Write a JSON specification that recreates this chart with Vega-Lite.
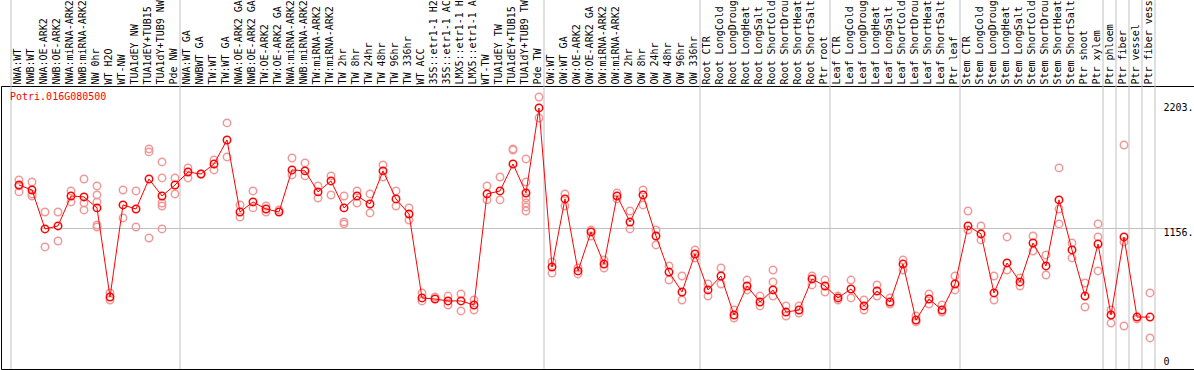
{
  "$schema": "https://vega.github.io/schema/vega-lite/v6.json",
  "width": 1193,
  "height": 283,
  "autosize": {"type": "none"},
  "padding": {"left": 1, "top": 86, "right": 0, "bottom": 1},
  "background": "white",
  "config": {"view": {"stroke": "black", "strokeWidth": 1}},
  "datasets": {
    "means": [
      {"s":"NWA:WT","v":1516},{"s":"NWB:WT","v":1474},{"s":"NWA:OE-ARK2","v":1148},{"s":"NWB:OE-ARK2","v":1173},
      {"s":"NWA:miRNA-ARK2","v":1424},{"s":"NWB:miRNA-ARK2","v":1416},{"s":"NW 0hr","v":1324},{"s":"WT H2O","v":578},
      {"s":"WT-NW","v":1349},{"s":"TUA1dEY NW","v":1315},{"s":"TUA1dEY+TUB15 NW","v":1566},{"s":"TUA1dY+TUB9 NW","v":1424},
      {"s":"Pde NW","v":1516},{"s":"NWA:WT GA","v":1625},{"s":"NWBWT GA","v":1608},{"s":"TW:WT","v":1692},
      {"s":"TW:WT GA","v":1893},{"s":"NWA:OE-ARK2 GA","v":1290},{"s":"NWB:OE-ARK2 GA","v":1374},{"s":"TW:OE-ARK2","v":1315},
      {"s":"TW:OE-ARK2 GA","v":1290},{"s":"NWA:miRNA-ARK2 GA","v":1642},{"s":"NWB:miRNA-ARK2 GA","v":1634},{"s":"TW:miRNA-ARK2","v":1458},
      {"s":"TW:miRNA-ARK2 GA","v":1550},{"s":"TW 2hr","v":1324},{"s":"TW 8hr","v":1424},{"s":"TW 24hr","v":1357},
      {"s":"TW 48hr","v":1634},{"s":"TW 96hr","v":1399},{"s":"TW 336hr","v":1273},{"s":"WT ACC","v":570},
      {"s":"35S::etr1-1 H2O","v":561},{"s":"35S::etr1-1 ACC","v":545},{"s":"LMX5::etr1-1 H2O","v":545},{"s":"LMX5::etr1-1 ACC","v":511},
      {"s":"WT-TW","v":1441},{"s":"TUA1dEY TW","v":1466},{"s":"TUA1dEY+TUB15 TW","v":1692},{"s":"TUA1dY+TUB9 TW","v":1449},
      {"s":"Pde TW","v":2161},{"s":"OW:WT","v":829},{"s":"OW:WT GA","v":1399},{"s":"OW:OE-ARK2","v":796},
      {"s":"OW:OE-ARK2 GA","v":1123},{"s":"OW:miRNA-ARK2","v":854},{"s":"OW:miRNA-ARK2 GA","v":1424},{"s":"OW 2hr","v":1206},
      {"s":"OW 8hr","v":1432},{"s":"OW 24hr","v":1089},{"s":"OW 48hr","v":787},{"s":"OW 96hr","v":620},
      {"s":"OW 336hr","v":938},{"s":"Root CTR","v":637},{"s":"Root LongCold","v":754},{"s":"Root LongDrought","v":427},
      {"s":"Root LongHeat","v":670},{"s":"Root LongSalt","v":536},{"s":"Root ShortCold","v":637},{"s":"Root ShortDrought","v":452},
      {"s":"Root ShortHeat","v":469},{"s":"Root ShortSalt","v":729},{"s":"Ptr root","v":670},{"s":"Leaf CTR","v":570},
      {"s":"Leaf LongCold","v":645},{"s":"Leaf LongDrought","v":503},{"s":"Leaf LongHeat","v":628},{"s":"Leaf LongSalt","v":536},
      {"s":"Leaf ShortCold","v":854},{"s":"Leaf ShortDrought","v":385},{"s":"Leaf ShortHeat","v":561},{"s":"Leaf ShortSalt","v":469},
      {"s":"Ptr leaf","v":687},{"s":"Stem CTR","v":1173},{"s":"Stem LongCold","v":1106},{"s":"Stem LongDrought","v":612},
      {"s":"Stem LongHeat","v":863},{"s":"Stem LongSalt","v":704},{"s":"Stem ShortCold","v":1030},{"s":"Stem ShortDrought","v":838},
      {"s":"Stem ShortHeat","v":1391},{"s":"Stem ShortSalt","v":972},{"s":"Ptr shoot","v":586},{"s":"Ptr xylem","v":1022},
      {"s":"Ptr phloem","v":427},{"s":"Ptr fiber","v":1081},{"s":"Ptr vessel","v":410},{"s":"Ptr fiber vessel","v":410}
    ],
    "reps": [
      {"s":"NWA:WT","v":1558},{"s":"NWA:WT","v":1508},{"s":"NWA:WT","v":1458},
      {"s":"NWB:WT","v":1541},{"s":"NWB:WT","v":1441},{"s":"NWB:WT","v":1424},
      {"s":"NWA:OE-ARK2","v":1290},{"s":"NWA:OE-ARK2","v":997},
      {"s":"NWB:OE-ARK2","v":1290},{"s":"NWB:OE-ARK2","v":1047},
      {"s":"NWA:miRNA-ARK2","v":1466},{"s":"NWA:miRNA-ARK2","v":1374},
      {"s":"NWB:miRNA-ARK2","v":1566},{"s":"NWB:miRNA-ARK2","v":1365},{"s":"NWB:miRNA-ARK2","v":1307},
      {"s":"NW 0hr","v":1508},{"s":"NW 0hr","v":1432},{"s":"NW 0hr","v":1374},{"s":"NW 0hr","v":1181},{"s":"NW 0hr","v":1164},
      {"s":"WT H2O","v":612},{"s":"WT H2O","v":553},
      {"s":"WT-NW","v":1474},{"s":"WT-NW","v":1240},
      {"s":"TUA1dEY NW","v":1466},{"s":"TUA1dEY NW","v":1164},
      {"s":"TUA1dEY+TUB15 NW","v":1818},{"s":"TUA1dEY+TUB15 NW","v":1793},{"s":"TUA1dEY+TUB15 NW","v":1072},
      {"s":"TUA1dY+TUB9 NW","v":1709},{"s":"TUA1dY+TUB9 NW","v":1575},{"s":"TUA1dY+TUB9 NW","v":1365},{"s":"TUA1dY+TUB9 NW","v":1340},{"s":"TUA1dY+TUB9 NW","v":1148},
      {"s":"Pde NW","v":1575},{"s":"Pde NW","v":1441},
      {"s":"NWA:WT GA","v":1659},{"s":"NWA:WT GA","v":1575},
      {"s":"NWBWT GA","v":1608},
      {"s":"TW:WT","v":1726},{"s":"TW:WT","v":1642},
      {"s":"TW:WT GA","v":2036},{"s":"TW:WT GA","v":1751},
      {"s":"NWA:OE-ARK2 GA","v":1349},{"s":"NWA:OE-ARK2 GA","v":1248},
      {"s":"NWB:OE-ARK2 GA","v":1466},{"s":"NWB:OE-ARK2 GA","v":1324},
      {"s":"TW:OE-ARK2","v":1340},{"s":"TW:OE-ARK2","v":1290},
      {"s":"TW:OE-ARK2 GA","v":1307},
      {"s":"NWA:miRNA-ARK2 GA","v":1742},{"s":"NWA:miRNA-ARK2 GA","v":1600},
      {"s":"NWB:miRNA-ARK2 GA","v":1701},{"s":"NWB:miRNA-ARK2 GA","v":1592},
      {"s":"TW:miRNA-ARK2","v":1508},{"s":"TW:miRNA-ARK2","v":1407},
      {"s":"TW:miRNA-ARK2 GA","v":1592},{"s":"TW:miRNA-ARK2 GA","v":1432},
      {"s":"TW 2hr","v":1424},{"s":"TW 2hr","v":1206},{"s":"TW 2hr","v":1190},
      {"s":"TW 8hr","v":1466},{"s":"TW 8hr","v":1365},
      {"s":"TW 24hr","v":1441},{"s":"TW 24hr","v":1282},
      {"s":"TW 48hr","v":1684},{"s":"TW 48hr","v":1583},
      {"s":"TW 96hr","v":1466},{"s":"TW 96hr","v":1340},
      {"s":"TW 336hr","v":1324},{"s":"TW 336hr","v":1223},
      {"s":"WT ACC","v":612},{"s":"WT ACC","v":545},
      {"s":"35S::etr1-1 H2O","v":578},
      {"s":"35S::etr1-1 ACC","v":586},{"s":"35S::etr1-1 ACC","v":511},
      {"s":"LMX5::etr1-1 H2O","v":603},{"s":"LMX5::etr1-1 H2O","v":461},
      {"s":"LMX5::etr1-1 ACC","v":553},{"s":"LMX5::etr1-1 ACC","v":469},
      {"s":"WT-TW","v":1508},{"s":"WT-TW","v":1391},
      {"s":"TUA1dEY TW","v":1583},{"s":"TUA1dEY TW","v":1391},
      {"s":"TUA1dEY+TUB15 TW","v":1818},{"s":"TUA1dEY+TUB15 TW","v":1809},
      {"s":"TUA1dY+TUB9 TW","v":1734},{"s":"TUA1dY+TUB9 TW","v":1541},{"s":"TUA1dY+TUB9 TW","v":1407},{"s":"TUA1dY+TUB9 TW","v":1365},{"s":"TUA1dY+TUB9 TW","v":1332},{"s":"TUA1dY+TUB9 TW","v":1298},
      {"s":"Pde TW","v":2253},{"s":"Pde TW","v":2077},
      {"s":"OW:WT","v":871},{"s":"OW:WT","v":779},
      {"s":"OW:WT GA","v":1441},{"s":"OW:WT GA","v":1340},
      {"s":"OW:OE-ARK2","v":821},{"s":"OW:OE-ARK2","v":771},
      {"s":"OW:OE-ARK2 GA","v":1139},{"s":"OW:OE-ARK2 GA","v":1089},
      {"s":"OW:miRNA-ARK2","v":888},{"s":"OW:miRNA-ARK2","v":821},
      {"s":"OW:miRNA-ARK2 GA","v":1449},{"s":"OW:miRNA-ARK2 GA","v":1399},
      {"s":"OW 2hr","v":1298},{"s":"OW 2hr","v":1148},
      {"s":"OW 8hr","v":1474},{"s":"OW 8hr","v":1349},
      {"s":"OW 24hr","v":1139},{"s":"OW 24hr","v":1014},
      {"s":"OW 48hr","v":838},{"s":"OW 48hr","v":720},
      {"s":"OW 96hr","v":754},{"s":"OW 96hr","v":553},
      {"s":"OW 336hr","v":972},{"s":"OW 336hr","v":905},
      {"s":"Root CTR","v":687},{"s":"Root CTR","v":586},
      {"s":"Root LongCold","v":821},{"s":"Root LongCold","v":687},
      {"s":"Root LongDrought","v":469},{"s":"Root LongDrought","v":402},
      {"s":"Root LongHeat","v":720},{"s":"Root LongHeat","v":637},
      {"s":"Root LongSalt","v":586},{"s":"Root LongSalt","v":503},
      {"s":"Root ShortCold","v":804},{"s":"Root ShortCold","v":704},{"s":"Root ShortCold","v":586},
      {"s":"Root ShortDrought","v":503},{"s":"Root ShortDrought","v":419},
      {"s":"Root ShortHeat","v":503},{"s":"Root ShortHeat","v":444},
      {"s":"Root ShortSalt","v":754},{"s":"Root ShortSalt","v":679},
      {"s":"Ptr root","v":720},{"s":"Ptr root","v":620},
      {"s":"Leaf CTR","v":586},{"s":"Leaf CTR","v":553},
      {"s":"Leaf LongCold","v":720},{"s":"Leaf LongCold","v":570},
      {"s":"Leaf LongDrought","v":553},{"s":"Leaf LongDrought","v":469},
      {"s":"Leaf LongHeat","v":679},{"s":"Leaf LongHeat","v":586},
      {"s":"Leaf LongSalt","v":570},{"s":"Leaf LongSalt","v":519},
      {"s":"Leaf ShortCold","v":888},{"s":"Leaf ShortCold","v":804},
      {"s":"Leaf ShortDrought","v":419},{"s":"Leaf ShortDrought","v":369},
      {"s":"Leaf ShortHeat","v":603},{"s":"Leaf ShortHeat","v":519},
      {"s":"Leaf ShortSalt","v":511},{"s":"Leaf ShortSalt","v":452},
      {"s":"Ptr leaf","v":754},{"s":"Ptr leaf","v":637},
      {"s":"Stem CTR","v":1298},{"s":"Stem CTR","v":1139},
      {"s":"Stem LongCold","v":1173},{"s":"Stem LongCold","v":1056},
      {"s":"Stem LongDrought","v":754},{"s":"Stem LongDrought","v":553},
      {"s":"Stem LongHeat","v":1081},{"s":"Stem LongHeat","v":804},
      {"s":"Stem LongSalt","v":737},{"s":"Stem LongSalt","v":670},
      {"s":"Stem ShortCold","v":1089},{"s":"Stem ShortCold","v":963},
      {"s":"Stem ShortDrought","v":930},{"s":"Stem ShortDrought","v":762},
      {"s":"Stem ShortHeat","v":1659},{"s":"Stem ShortHeat","v":1315},{"s":"Stem ShortHeat","v":1190},
      {"s":"Stem ShortSalt","v":1030},{"s":"Stem ShortSalt","v":905},
      {"s":"Ptr shoot","v":695},{"s":"Ptr shoot","v":494},
      {"s":"Ptr xylem","v":1190},{"s":"Ptr xylem","v":1081},{"s":"Ptr xylem","v":796},
      {"s":"Ptr phloem","v":469},{"s":"Ptr phloem","v":360},
      {"s":"Ptr fiber","v":1851},{"s":"Ptr fiber","v":1039},{"s":"Ptr fiber","v":335},
      {"s":"Ptr vessel","v":394},
      {"s":"Ptr fiber vessel","v":612},{"s":"Ptr fiber vessel","v":235}
    ],
    "bounds": [
      {"s":"NWA:WT"},{"s":"NWA:WT GA"},{"s":"OW:WT"},{"s":"Root CTR"},{"s":"Leaf CTR"},
      {"s":"Stem CTR"},{"s":"Ptr phloem"},{"s":"Ptr fiber"},{"s":"Ptr vessel"},{"s":"Ptr fiber vessel"}
    ]
  },
  "layer": [
    {
      "data": {"name": "bounds"},
      "mark": {"type": "rule", "color": "#c0c0c0", "strokeWidth": 1, "clip": false},
      "encoding": {
        "x": {"field": "s", "type": "nominal", "bandPosition": 0},
        "y": {"datum": 3100, "type": "quantitative"},
        "y2": {"datum": -25}
      }
    },
    {
      "data": {"values": [{"s": "Ptr fiber vessel"}]},
      "mark": {"type": "rule", "color": "#c0c0c0", "strokeWidth": 1, "clip": false},
      "encoding": {
        "x": {"field": "s", "type": "nominal", "bandPosition": 1},
        "y": {"datum": 3100, "type": "quantitative"},
        "y2": {"datum": -25}
      }
    },
    {
      "data": {"name": "reps"},
      "mark": {"type": "point", "shape": "circle", "filled": false, "size": 55, "strokeWidth": 1.5, "color": "#f09898", "opacity": 1},
      "encoding": {
        "x": {
          "field": "s", "type": "nominal", "bandPosition": 0.6154,
          "scale": {
            "type": "band",
            "domain": ["NWA:WT","NWB:WT","NWA:OE-ARK2","NWB:OE-ARK2","NWA:miRNA-ARK2","NWB:miRNA-ARK2","NW 0hr","WT H2O","WT-NW","TUA1dEY NW","TUA1dEY+TUB15 NW","TUA1dY+TUB9 NW","Pde NW","NWA:WT GA","NWBWT GA","TW:WT","TW:WT GA","NWA:OE-ARK2 GA","NWB:OE-ARK2 GA","TW:OE-ARK2","TW:OE-ARK2 GA","NWA:miRNA-ARK2 GA","NWB:miRNA-ARK2 GA","TW:miRNA-ARK2","TW:miRNA-ARK2 GA","TW 2hr","TW 8hr","TW 24hr","TW 48hr","TW 96hr","TW 336hr","WT ACC","35S::etr1-1 H2O","35S::etr1-1 ACC","LMX5::etr1-1 H2O","LMX5::etr1-1 ACC","WT-TW","TUA1dEY TW","TUA1dEY+TUB15 TW","TUA1dY+TUB9 TW","Pde TW","OW:WT","OW:WT GA","OW:OE-ARK2","OW:OE-ARK2 GA","OW:miRNA-ARK2","OW:miRNA-ARK2 GA","OW 2hr","OW 8hr","OW 24hr","OW 48hr","OW 96hr","OW 336hr","Root CTR","Root LongCold","Root LongDrought","Root LongHeat","Root LongSalt","Root ShortCold","Root ShortDrought","Root ShortHeat","Root ShortSalt","Ptr root","Leaf CTR","Leaf LongCold","Leaf LongDrought","Leaf LongHeat","Leaf LongSalt","Leaf ShortCold","Leaf ShortDrought","Leaf ShortHeat","Leaf ShortSalt","Ptr leaf","Stem CTR","Stem LongCold","Stem LongDrought","Stem LongHeat","Stem LongSalt","Stem ShortCold","Stem ShortDrought","Stem ShortHeat","Stem ShortSalt","Ptr shoot","Ptr xylem","Ptr phloem","Ptr fiber","Ptr vessel","Ptr fiber vessel"],
            "range": [10, 1154],
            "paddingInner": 0,
            "paddingOuter": 0
          },
          "axis": {
            "orient": "top", "title": null, "labelAngle": -90, "labelAlign": "left", "labelBaseline": "middle",
            "bandPosition": 0.6154, "ticks": false, "tickSize": 0, "labelPadding": 2, "domain": false,
            "grid": false, "labelOverlap": false, "labelLimit": 0,
            "labelFont": "DejaVu Sans Mono", "labelFontSize": 10, "labelColor": "black"
          }
        },
        "y": {
          "field": "v", "type": "quantitative",
          "scale": {"domain": [-25, 2345], "nice": false, "zero": false},
          "axis": {
            "orient": "right", "title": null, "values": [0, 1156, 2203],
            "labelExpr": "datum.value == 0 ? '0' : datum.value + '.'",
            "domain": false, "ticks": false, "tickSize": 0, "labelPadding": -31, "labelAlign": "left",
            "labelFlush": false, "labelOverlap": false,
            "labelBaseline": {"condition": {"test": "datum.value == 0", "value": "bottom"}, "value": "top"},
            "labelFont": "DejaVu Sans Mono", "labelFontSize": 10, "labelColor": "black",
            "grid": true, "gridColor": "#c0c0c0", "gridWidth": 1,
            "gridOpacity": {"condition": {"test": "datum.value == 1156", "value": 1}, "value": 0}
          }
        }
      }
    },
    {
      "data": {"name": "means"},
      "mark": {"type": "line", "color": "#ff0000", "strokeWidth": 1},
      "encoding": {
        "x": {"field": "s", "type": "nominal", "bandPosition": 0.6154},
        "y": {"field": "v", "type": "quantitative"},
        "order": {"value": null}
      }
    },
    {
      "data": {"name": "means"},
      "mark": {"type": "point", "shape": "circle", "filled": false, "size": 55, "strokeWidth": 1.5, "color": "#ff0000", "opacity": 1},
      "encoding": {
        "x": {"field": "s", "type": "nominal", "bandPosition": 0.6154},
        "y": {"field": "v", "type": "quantitative"}
      }
    },
    {
      "data": {"values": [{"t": "Potri.016G080500"}]},
      "mark": {"type": "text", "align": "left", "baseline": "middle", "font": "DejaVu Sans Mono", "fontSize": 10, "color": "#ff0000", "dx": -1},
      "encoding": {
        "x": {"datum": "NWA:WT", "type": "nominal", "bandPosition": 0},
        "y": {"datum": 2253, "type": "quantitative"},
        "text": {"field": "t", "type": "nominal"}
      }
    }
  ]
}
